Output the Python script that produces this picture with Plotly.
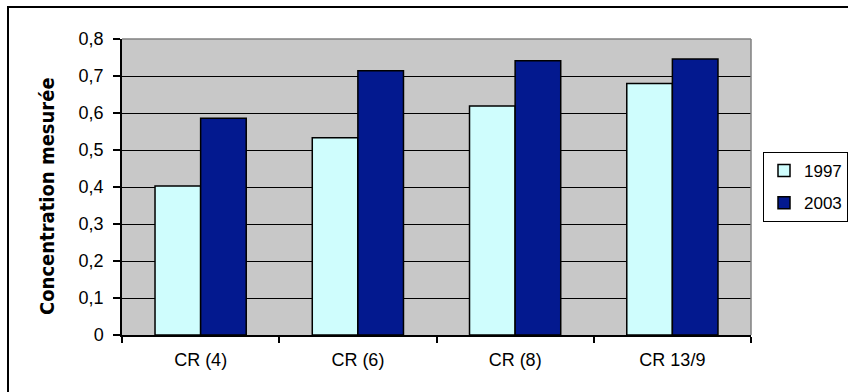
import plotly.graph_objects as go

categories = ["CR (4)", "CR (6)", "CR (8)", "CR 13/9"]
values_1997 = [0.403, 0.533, 0.619, 0.680]
values_2003 = [0.586, 0.714, 0.741, 0.746]
series_names = ["1997", "2003"]
y_tickvals = [0, 0.1, 0.2, 0.3, 0.4, 0.5, 0.6, 0.7, 0.8]
y_ticktext = ["0", "0,1", "0,2", "0,3", "0,4", "0,5", "0,6", "0,7", "0,8"]
y_title = "Concentration mesurée"

W, H = 848, 392
L, R, T, B = 122, 751, 39, 335
pw, ph = R - L, B - T

def px(xp):
    return (xp - L) / pw

def py(yp):
    return (B - yp) / ph

font_main = "Liberation Sans, Arial, sans-serif"

fig = go.Figure()
fig.add_trace(go.Bar(x=categories, y=values_1997, name=series_names[0], legendgroup="a",
                     marker=dict(color="#CFFDFD", line=dict(color="black", width=1.5))))
fig.add_trace(go.Bar(x=categories, y=values_2003, name=series_names[1], legendgroup="b",
                     marker=dict(color="#03198F", line=dict(color="black", width=1.5))))

fig.update_layout(
    width=W, height=H,
    margin=dict(l=L, r=W - R, t=T, b=H - B, autoexpand=False),
    paper_bgcolor="white",
    plot_bgcolor="#C8C8C8",
    barmode="group",
    bargap=0.42,
    bargroupgap=0,
    font=dict(family=font_main, size=18, color="black"),
    showlegend=True,
    legend=dict(x=px(763), y=py(152), xanchor="left", yanchor="top",
                bordercolor="black", borderwidth=1, bgcolor="white",
                font=dict(size=17, family=font_main), tracegroupgap=7,
                traceorder="grouped", itemwidth=30),
    xaxis=dict(showline=True, linecolor="black", linewidth=1.5,
               ticks="outside", ticklen=6, tickcolor="black", tickwidth=1.5,
               tickson="boundaries", showgrid=False, ticklabelstandoff=8,
               tickfont=dict(size=18, family=font_main), fixedrange=True),
    yaxis=dict(range=[0, 0.8], showline=True, linecolor="black", linewidth=1.5,
               ticks="outside", ticklen=7, tickcolor="black", tickwidth=1.5,
               tickvals=y_tickvals, ticktext=y_ticktext, ticklabelstandoff=6,
               showgrid=True, gridcolor="black", gridwidth=1,
               zeroline=False, tickfont=dict(size=18, family=font_main),
               fixedrange=True),
    shapes=[
        dict(type="line", xref="paper", yref="paper", x0=0, x1=1, y0=1, y1=1,
             line=dict(color="#808080", width=1.5)),
        dict(type="line", xref="paper", yref="paper", x0=1, x1=1, y0=0, y1=1,
             line=dict(color="#808080", width=1.5)),
        dict(type="rect", xref="paper", yref="paper",
             x0=px(8), x1=px(870), y0=py(7), y1=py(410),
             line=dict(color="black", width=2), fillcolor="rgba(0,0,0,0)"),
    ],
    annotations=[
        dict(text=y_title, xref="paper", yref="paper", x=px(47), y=py(196),
             textangle=-90, showarrow=False, xanchor="center", yanchor="middle",
             font=dict(family="Liberation Sans Narrow, DejaVu Sans Condensed, Arial Narrow, sans-serif",
                       size=20, color="black", weight="bold")),
    ],
)

fig.write_html("out.html")
